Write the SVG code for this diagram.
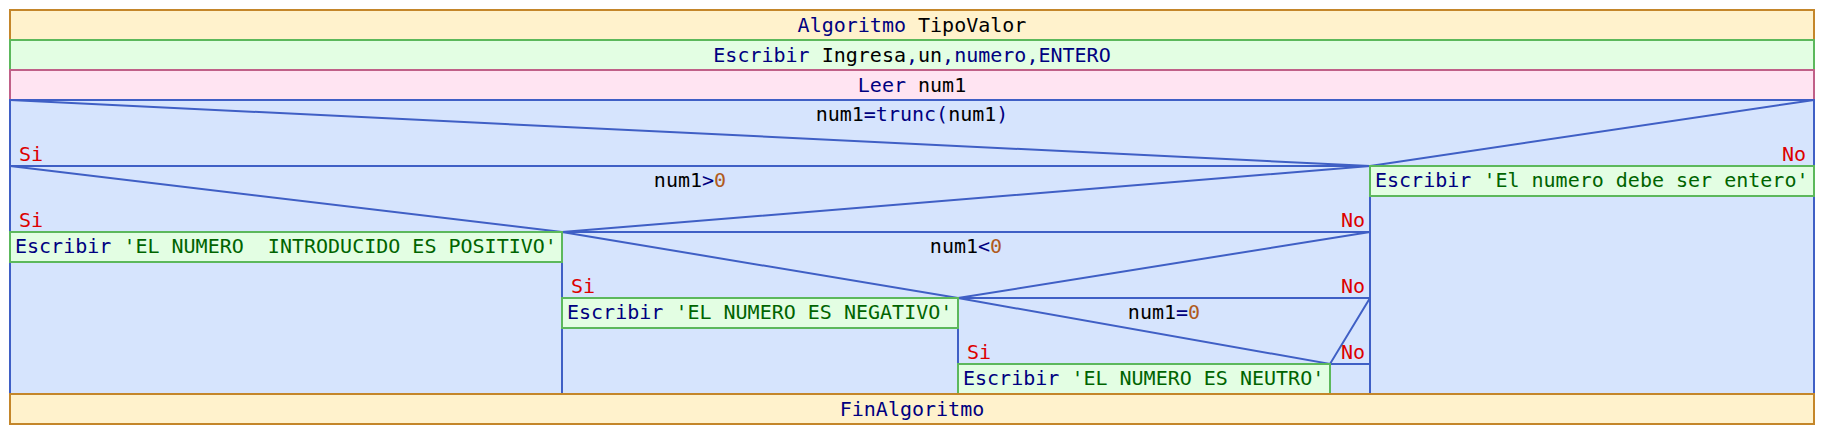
<svg xmlns="http://www.w3.org/2000/svg" width="1824" height="434" viewBox="0 0 1824 434">
<style>
text{font-family:"DejaVu Sans Mono","Liberation Mono",monospace;font-size:20px;fill:#000}
.c{text-anchor:middle}
.e{text-anchor:end}
.k{fill:#000080}
.s{fill:#006400}
.n{fill:#b05a20}
.r{fill:#dd0000}
.alg{fill:#fff2cc;stroke:#c4862a;stroke-width:2}
.out{fill:#e3fee3;stroke:#5cb85c;stroke-width:2}
.inp{fill:#ffe4f2;stroke:#c06088;stroke-width:2}
.dec{fill:#d6e4fd;stroke:#3f5fc5;stroke-width:2}
.ln{stroke:#3f5fc5;stroke-width:2;fill:none}
</style>
<rect width="1824" height="434" fill="#fff"/>
<g id="inicio">
<rect class="alg" x="10" y="10" width="1804" height="30"/>
<text class="c" x="912" y="32"><tspan class="k">Algoritmo</tspan> TipoValor</text>
</g>
<g id="escribir1">
<rect class="out" x="10" y="40" width="1804" height="30"/>
<text class="c" x="912" y="62"><tspan class="k">Escribir</tspan> Ingresa<tspan class="k">,</tspan>un<tspan class="k">,numero,ENTERO</tspan></text>
</g>
<g id="leer">
<rect class="inp" x="10" y="70" width="1804" height="30"/>
<text class="c" x="912" y="92"><tspan class="k">Leer</tspan> num1</text>
</g>
<g id="decision1">
<rect class="dec" x="10" y="100" width="1804" height="294"/>
<path class="ln" d="M10,100 L1370,166 L1814,100"/>
<text class="c" x="912" y="121">num1<tspan class="k">=trunc(</tspan>num1<tspan class="k">)</tspan></text>
<text class="r" x="19" y="161">Si</text>
<text class="r e" x="1806" y="161">No</text>
</g>
<g id="decision2">
<rect class="dec" x="10" y="166" width="1360" height="228"/>
<path class="ln" d="M10,166 L562,232 L1370,166"/>
<text class="c" x="690" y="187">num1<tspan class="k">&gt;</tspan><tspan class="n">0</tspan></text>
<text class="r" x="19" y="227">Si</text>
<text class="r e" x="1365" y="227">No</text>
</g>
<g id="decision3">
<rect class="dec" x="562" y="232" width="808" height="162"/>
<path class="ln" d="M562,232 L958,298 L1370,232"/>
<text class="c" x="966" y="253">num1<tspan class="k">&lt;</tspan><tspan class="n">0</tspan></text>
<text class="r" x="571" y="293">Si</text>
<text class="r e" x="1365" y="293">No</text>
</g>
<g id="decision4">
<rect class="dec" x="958" y="298" width="412" height="96"/>
<path class="ln" d="M958,298 L1330,364 L1370,298"/>
<text class="c" x="1164" y="319">num1<tspan class="k">=</tspan><tspan class="n">0</tspan></text>
<text class="r" x="967" y="359">Si</text>
<text class="r e" x="1365" y="359">No</text>
</g>
<g id="connectors">
<line class="ln" x1="1330" y1="364" x2="1370" y2="364"/>
<line class="ln" x1="1330" y1="364" x2="1330" y2="394"/>
</g>
<g id="escribirEntero">
<rect class="out" x="1370" y="166" width="444" height="30"/>
<text x="1375" y="187"><tspan class="k">Escribir</tspan> <tspan class="s">'El numero debe ser entero'</tspan></text>
</g>
<g id="escribirPositivo">
<rect class="out" x="10" y="232" width="552" height="30"/>
<text x="15" y="253" xml:space="preserve"><tspan class="k">Escribir</tspan> <tspan class="s">'EL NUMERO  INTRODUCIDO ES POSITIVO'</tspan></text>
</g>
<g id="escribirNegativo">
<rect class="out" x="562" y="298" width="396" height="30"/>
<text x="567" y="319"><tspan class="k">Escribir</tspan> <tspan class="s">'EL NUMERO ES NEGATIVO'</tspan></text>
</g>
<g id="escribirNeutro">
<rect class="out" x="958" y="364" width="372" height="30"/>
<text x="963" y="385"><tspan class="k">Escribir</tspan> <tspan class="s">'EL NUMERO ES NEUTRO'</tspan></text>
</g>
<g id="fin">
<rect class="alg" x="10" y="394" width="1804" height="30"/>
<text class="c" x="912" y="416"><tspan class="k">FinAlgoritmo</tspan></text>
</g>
</svg>
